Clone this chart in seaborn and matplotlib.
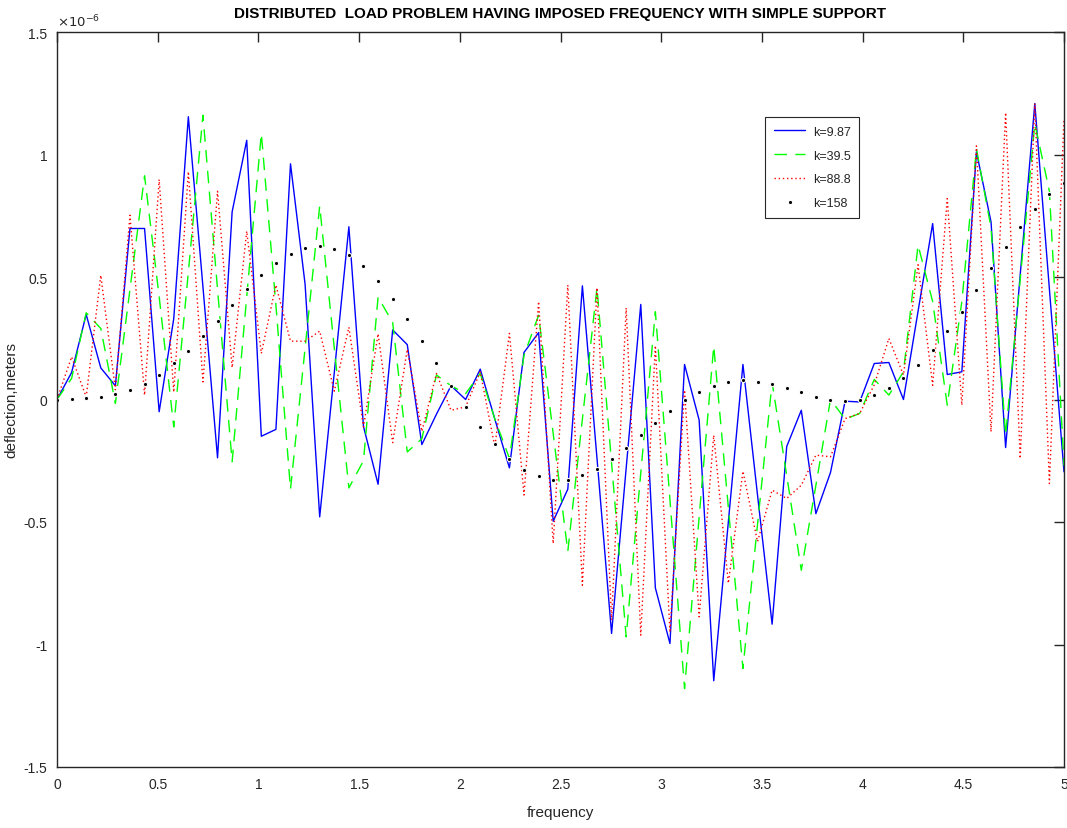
import numpy as np
import matplotlib
matplotlib.use("Agg")
import matplotlib.pyplot as plt
import seaborn as sns

# ---------------- data (deflection in units of 1e-6 m) ----------------
freq = np.linspace(0, 5, 70)

k_labels = ["k=9.87", "k=39.5", "k=88.8", "k=158"]

defl_k9_87 = [0.0, 0.11, 0.347, 0.129, 0.056, 0.698, 0.698, -0.05, 0.33, 1.154,
              0.46, -0.238, 0.766, 1.058, -0.15, -0.122, 0.962, 0.47, -0.479, 0.11,
              0.705, -0.11, -0.346, 0.284, 0.224, -0.184, -0.06, 0.056, 0.0, 0.124,
              -0.08, -0.279, 0.192, 0.273, -0.497, -0.366, 0.464, -0.24, -0.955, -0.28,
              0.388, -0.769, -0.996, 0.143, -0.084, -1.148, -0.50, 0.143, -0.39, -0.917,
              -0.192, -0.044, -0.466, -0.298, -0.007, -0.01, 0.147, 0.151, 0.0, 0.36,
              0.718, 0.102, 0.113, 1.011, 0.725, -0.196, 0.51, 1.208, 0.45, -0.295]

defl_k39_5 = [0.0, 0.086, 0.354, 0.29, -0.016, 0.45, 0.913, 0.42, -0.112, 0.52,
              1.16, 0.45, -0.254, 0.42, 1.086, 0.385, -0.366, 0.21, 0.79, 0.21,
              -0.361, -0.25, 0.418, 0.314, -0.214, -0.16, 0.10, 0.056, 0.024, 0.106,
              -0.08, -0.24, 0.18, 0.344, -0.14, -0.62, -0.08, 0.456, -0.26, -0.969,
              -0.30, 0.358, -0.41, -1.18, -0.48, 0.218, -0.44, -1.098, -0.51, 0.069,
              -0.31, -0.697, -0.35, 0.0, -0.08, -0.057, 0.082, 0.018, 0.113, 0.63,
              0.40, -0.023, 0.40, 1.024, 0.70, -0.146, 0.49, 1.126, 0.85, -0.27]

defl_k88_8 = [0.0, 0.174, 0.01, 0.507, 0.04, 0.752, 0.018, 0.898, 0.03, 0.93,
              0.072, 0.85, 0.13, 0.687, 0.188, 0.467, 0.238, 0.238, 0.279, 0.034,
              0.295, -0.112, 0.268, -0.176, 0.205, -0.13, 0.106, -0.044, -0.03, 0.113,
              -0.193, 0.27, -0.39, 0.40, -0.588, 0.467, -0.758, 0.456, -0.90, 0.374,
              -0.962, 0.22, -0.95, 0.038, -0.887, -0.146, -0.75, -0.293, -0.58, -0.37,
              -0.404, -0.35, -0.227, -0.234, -0.078, -0.057, 0.06, 0.249, 0.10, 0.55,
              0.058, 0.82, -0.023, 1.035, -0.132, 1.171, -0.241, 1.208, -0.343, 1.147]

defl_k158 = [0.0, 0.003, 0.005, 0.01, 0.022, 0.038, 0.065, 0.102, 0.147, 0.199,
             0.259, 0.321, 0.386, 0.449, 0.507, 0.556, 0.595, 0.618, 0.626, 0.616,
             0.589, 0.544, 0.484, 0.412, 0.328, 0.238, 0.147, 0.056, -0.031, -0.112,
             -0.182, -0.241, -0.286, -0.314, -0.328, -0.327, -0.309, -0.282, -0.242, -0.196,
             -0.146, -0.094, -0.046, -0.004, 0.031, 0.057, 0.072, 0.078, 0.073, 0.063,
             0.046, 0.029, 0.011, 0.0, -0.005, 0.0, 0.018, 0.045, 0.086, 0.14,
             0.203, 0.278, 0.359, 0.448, 0.535, 0.623, 0.706, 0.778, 0.838, 0.883]

x_ticks = [0, 0.5, 1, 1.5, 2, 2.5, 3, 3.5, 4, 4.5, 5]
x_tick_labels = ["0", "0.5", "1", "1.5", "2", "2.5", "3", "3.5", "4", "4.5", "5"]
y_ticks = [-1.5, -1, -0.5, 0, 0.5, 1, 1.5]
y_tick_labels = ["-1.5", "-1", "-0.5", "0", "0.5", "1", "1.5"]

title = "DISTRIBUTED  LOAD PROBLEM HAVING IMPOSED FREQUENCY WITH SIMPLE SUPPORT"

# ---------------- styling ----------------
sns.set_style("white")
plt.rcParams["font.family"] = ["Liberation Sans Narrow", "Liberation Sans", "DejaVu Sans"]

fig = plt.figure(figsize=(10.67, 8.29), dpi=100)
ax = fig.add_axes([57 / 1067, 1 - 768 / 829, (1064 - 57) / 1067, (768 - 33) / 829])

sns.lineplot(x=freq, y=defl_k9_87, ax=ax, color=(0, 0, 1), linestyle="-",
             linewidth=1.0, label=k_labels[0], sort=False)
sns.lineplot(x=freq, y=defl_k39_5, ax=ax, color=(0, 1, 0), linestyle=(0, (9, 6)),
             linewidth=1.0, label=k_labels[1], sort=False)
sns.lineplot(x=freq, y=defl_k88_8, ax=ax, color=(1, 0, 0), linestyle=(0, (1, 2)),
             linewidth=1.0, label=k_labels[2], sort=False)
sns.lineplot(x=freq, y=defl_k158, ax=ax, color="black", linestyle="none",
             marker=".", markersize=6, label=k_labels[3], sort=False)

ax.set_xlim(0, 5)
ax.set_ylim(-1.5, 1.5)
ax.set_xticks(x_ticks)
ax.set_xticklabels(x_tick_labels)
ax.set_yticks(y_ticks)
ax.set_yticklabels(y_tick_labels)

ax.tick_params(direction="in", top=True, right=True, length=7, width=1,
               labelsize=10, colors="#262626", pad=7)
for s in ax.spines.values():
    s.set_color("#262626")
    s.set_linewidth(1.0)

ax.set_xlabel("frequency", fontsize=11, color="#262626")
ax.xaxis.set_label_coords(0.5, -0.052)
ax.set_ylabel("deflection,meters", fontsize=11, color="#262626")
ax.yaxis.set_label_coords(-0.038, 0.5)
ax.set_title(title, fontsize=11, fontweight="bold", color="black", pad=11)

ax.text(0.0, 1.004, r"$\times10^{-6}$", transform=ax.transAxes, ha="left",
        va="bottom", fontsize=9.5, color="#262626")

leg = ax.legend(loc="upper left", bbox_to_anchor=(0.697, 0.893), fontsize=9,
                frameon=True, fancybox=False, edgecolor="#262626",
                framealpha=1, borderpad=0.7, handlelength=2.5, labelspacing=0.95,
                handletextpad=0.6)
leg.get_frame().set_linewidth(0.8)

fig.savefig("out.png", dpi=100)
